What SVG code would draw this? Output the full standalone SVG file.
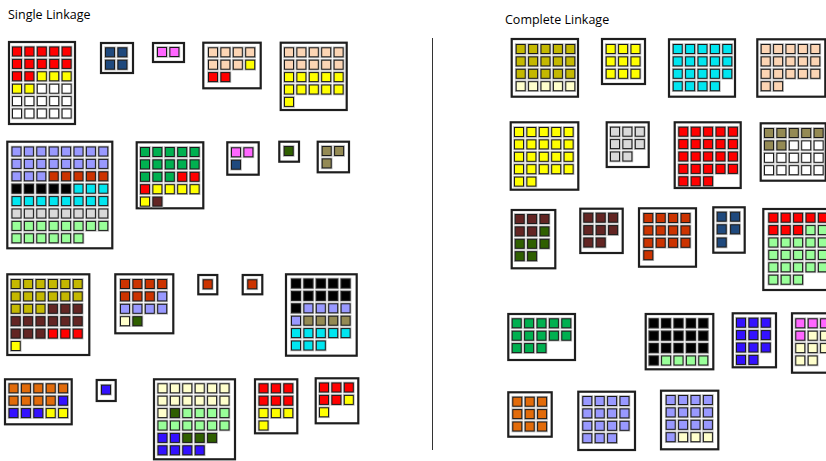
<svg xmlns="http://www.w3.org/2000/svg" xmlns:xlink="http://www.w3.org/1999/xlink" width="826" height="461" viewBox="0 0 826 461">
<style>
.bx{fill:#fff;stroke:#1e1e1e;stroke-width:2.2}
.ttl{font-family:"Open Sans","Liberation Sans",sans-serif;font-size:12.5px;fill:#000}
.r{color:#ff0000}.y{color:#ffff00}.w{color:#ffffff}.n{color:#1f497d}.p{color:#ff66ff}
.k{color:#fcd5b4}.l{color:#9999ff}.t{color:#cc3300}.b{color:#000000}.c{color:#00e6f0}
.g{color:#d9d9d9}.e{color:#99ff99}.gr{color:#00b050}.m{color:#632523}.d{color:#2f5f00}
.o{color:#948a54}.v{color:#c4b800}.q{color:#ffffcc}.u{color:#e26b0a}.z{color:#3311ff}
</style>
<defs>
<g id="s"><rect x="-0.8" y="-0.8" width="11.6" height="11.6" fill="#b5b5b5"/><rect x="0.5" y="0.5" width="9" height="9" fill="currentColor" stroke="#1a1a1a" stroke-width="1"/></g>
</defs>
<rect width="826" height="461" fill="#fff"/>
<text class="ttl" x="8" y="19">Single Linkage</text>
<text class="ttl" x="505" y="24">Complete Linkage</text>
<g id="connectors"><line x1="432.5" y1="38" x2="432.5" y2="450" stroke="#333" stroke-width="1"/></g>

<g id="sA"><rect class="bx" x="9" y="42" width="66" height="82"/><g transform="translate(12,46.5)">
<use href="#s" x="0" y="0" class="r"/><use href="#s" x="12.4" y="0" class="r"/><use href="#s" x="24.8" y="0" class="r"/><use href="#s" x="37.2" y="0" class="r"/><use href="#s" x="49.6" y="0" class="r"/>
<use href="#s" x="0" y="12.4" class="r"/><use href="#s" x="12.4" y="12.4" class="r"/><use href="#s" x="24.8" y="12.4" class="r"/><use href="#s" x="37.2" y="12.4" class="r"/><use href="#s" x="49.6" y="12.4" class="r"/>
<use href="#s" x="0" y="24.8" class="r"/><use href="#s" x="12.4" y="24.8" class="r"/><use href="#s" x="24.8" y="24.8" class="y"/><use href="#s" x="37.2" y="24.8" class="y"/><use href="#s" x="49.6" y="24.8" class="y"/>
<use href="#s" x="0" y="37.2" class="y"/><use href="#s" x="12.4" y="37.2" class="y"/><use href="#s" x="24.8" y="37.2" class="w"/><use href="#s" x="37.2" y="37.2" class="w"/><use href="#s" x="49.6" y="37.2" class="w"/>
<use href="#s" x="0" y="49.6" class="w"/><use href="#s" x="12.4" y="49.6" class="w"/><use href="#s" x="24.8" y="49.6" class="w"/><use href="#s" x="37.2" y="49.6" class="w"/><use href="#s" x="49.6" y="49.6" class="w"/>
<use href="#s" x="0" y="62" class="w"/><use href="#s" x="12.4" y="62" class="w"/><use href="#s" x="24.8" y="62" class="w"/><use href="#s" x="37.2" y="62" class="w"/><use href="#s" x="49.6" y="62" class="w"/>
</g></g>

<g id="sB"><rect class="bx" x="101" y="43" width="32" height="30"/><g transform="translate(105,47.3)">
<use href="#s" x="0" y="0" class="n"/><use href="#s" x="12.4" y="0" class="n"/><use href="#s" x="0" y="12.4" class="n"/><use href="#s" x="12.4" y="12.4" class="n"/>
</g></g>

<g id="sC"><rect class="bx" x="153" y="43" width="31" height="19"/><g transform="translate(157,47)">
<use href="#s" x="0" y="0" class="p"/><use href="#s" x="12.4" y="0" class="p"/>
</g></g>

<g id="sD"><rect class="bx" x="203.3" y="42.7" width="57.4" height="45.6"/><g transform="translate(208,47.3)">
<use href="#s" x="0" y="0" class="k"/><use href="#s" x="12.4" y="0" class="k"/><use href="#s" x="24.8" y="0" class="k"/><use href="#s" x="37.2" y="0" class="k"/>
<use href="#s" x="0" y="12.4" class="k"/><use href="#s" x="12.4" y="12.4" class="k"/><use href="#s" x="24.8" y="12.4" class="k"/><use href="#s" x="37.2" y="12.4" class="y"/>
<use href="#s" x="0" y="24.8" class="r"/><use href="#s" x="12.4" y="24.8" class="r"/>
</g></g>

<g id="sE"><rect class="bx" x="280.7" y="42.7" width="66" height="67.3"/><g transform="translate(284,47.3)">
<use href="#s" x="0" y="0" class="k"/><use href="#s" x="12.4" y="0" class="k"/><use href="#s" x="24.8" y="0" class="k"/><use href="#s" x="37.2" y="0" class="k"/><use href="#s" x="49.6" y="0" class="k"/>
<use href="#s" x="0" y="12.4" class="k"/><use href="#s" x="12.4" y="12.4" class="k"/><use href="#s" x="24.8" y="12.4" class="k"/><use href="#s" x="37.2" y="12.4" class="k"/><use href="#s" x="49.6" y="12.4" class="k"/>
<use href="#s" x="0" y="24.8" class="y"/><use href="#s" x="12.4" y="24.8" class="y"/><use href="#s" x="24.8" y="24.8" class="y"/><use href="#s" x="37.2" y="24.8" class="y"/><use href="#s" x="49.6" y="24.8" class="y"/>
<use href="#s" x="0" y="37.2" class="y"/><use href="#s" x="12.4" y="37.2" class="y"/><use href="#s" x="24.8" y="37.2" class="y"/><use href="#s" x="37.2" y="37.2" class="y"/><use href="#s" x="49.6" y="37.2" class="y"/>
<use href="#s" x="0" y="49.6" class="y"/>
</g></g>

<g id="sF"><rect class="bx" x="7.3" y="141.7" width="105" height="106.6"/><g transform="translate(11.5,146.5)">
<use href="#s" x="0" y="0" class="l"/><use href="#s" x="12.4" y="0" class="l"/><use href="#s" x="24.8" y="0" class="l"/><use href="#s" x="37.2" y="0" class="l"/><use href="#s" x="49.6" y="0" class="l"/><use href="#s" x="62" y="0" class="l"/><use href="#s" x="74.4" y="0" class="l"/><use href="#s" x="86.8" y="0" class="l"/>
<use href="#s" x="0" y="12.4" class="l"/><use href="#s" x="12.4" y="12.4" class="l"/><use href="#s" x="24.8" y="12.4" class="l"/><use href="#s" x="37.2" y="12.4" class="l"/><use href="#s" x="49.6" y="12.4" class="l"/><use href="#s" x="62" y="12.4" class="l"/><use href="#s" x="74.4" y="12.4" class="l"/><use href="#s" x="86.8" y="12.4" class="l"/>
<use href="#s" x="0" y="24.8" class="l"/><use href="#s" x="12.4" y="24.8" class="l"/><use href="#s" x="24.8" y="24.8" class="l"/><use href="#s" x="37.2" y="24.8" class="t"/><use href="#s" x="49.6" y="24.8" class="t"/><use href="#s" x="62" y="24.8" class="t"/><use href="#s" x="74.4" y="24.8" class="t"/><use href="#s" x="86.8" y="24.8" class="t"/>
<use href="#s" x="0" y="37.2" class="b"/><use href="#s" x="12.4" y="37.2" class="b"/><use href="#s" x="24.8" y="37.2" class="b"/><use href="#s" x="37.2" y="37.2" class="b"/><use href="#s" x="49.6" y="37.2" class="b"/><use href="#s" x="62" y="37.2" class="c"/><use href="#s" x="74.4" y="37.2" class="c"/><use href="#s" x="86.8" y="37.2" class="c"/>
<use href="#s" x="0" y="49.6" class="c"/><use href="#s" x="12.4" y="49.6" class="c"/><use href="#s" x="24.8" y="49.6" class="c"/><use href="#s" x="37.2" y="49.6" class="c"/><use href="#s" x="49.6" y="49.6" class="c"/><use href="#s" x="62" y="49.6" class="c"/><use href="#s" x="74.4" y="49.6" class="c"/><use href="#s" x="86.8" y="49.6" class="c"/>
<use href="#s" x="0" y="62" class="g"/><use href="#s" x="12.4" y="62" class="g"/><use href="#s" x="24.8" y="62" class="g"/><use href="#s" x="37.2" y="62" class="g"/><use href="#s" x="49.6" y="62" class="g"/><use href="#s" x="62" y="62" class="g"/><use href="#s" x="74.4" y="62" class="g"/><use href="#s" x="86.8" y="62" class="g"/>
<use href="#s" x="0" y="74.4" class="e"/><use href="#s" x="12.4" y="74.4" class="e"/><use href="#s" x="24.8" y="74.4" class="e"/><use href="#s" x="37.2" y="74.4" class="e"/><use href="#s" x="49.6" y="74.4" class="e"/><use href="#s" x="62" y="74.4" class="e"/><use href="#s" x="74.4" y="74.4" class="e"/><use href="#s" x="86.8" y="74.4" class="e"/>
<use href="#s" x="0" y="86.8" class="e"/><use href="#s" x="12.4" y="86.8" class="e"/><use href="#s" x="24.8" y="86.8" class="e"/><use href="#s" x="37.2" y="86.8" class="e"/><use href="#s" x="49.6" y="86.8" class="e"/><use href="#s" x="62" y="86.8" class="e"/>
</g></g>

<g id="sG"><rect class="bx" x="136.7" y="142.3" width="66.6" height="66"/><g transform="translate(140,147)">
<use href="#s" x="0" y="0" class="gr"/><use href="#s" x="12.4" y="0" class="gr"/><use href="#s" x="24.8" y="0" class="gr"/><use href="#s" x="37.2" y="0" class="gr"/><use href="#s" x="49.6" y="0" class="gr"/>
<use href="#s" x="0" y="12.4" class="gr"/><use href="#s" x="12.4" y="12.4" class="gr"/><use href="#s" x="24.8" y="12.4" class="gr"/><use href="#s" x="37.2" y="12.4" class="gr"/><use href="#s" x="49.6" y="12.4" class="gr"/>
<use href="#s" x="0" y="24.8" class="gr"/><use href="#s" x="12.4" y="24.8" class="gr"/><use href="#s" x="24.8" y="24.8" class="gr"/><use href="#s" x="37.2" y="24.8" class="r"/><use href="#s" x="49.6" y="24.8" class="r"/>
<use href="#s" x="0" y="37.2" class="r"/><use href="#s" x="12.4" y="37.2" class="y"/><use href="#s" x="24.8" y="37.2" class="y"/><use href="#s" x="37.2" y="37.2" class="y"/><use href="#s" x="49.6" y="37.2" class="y"/>
<use href="#s" x="0" y="49.6" class="y"/><use href="#s" x="12.4" y="49.6" class="m"/>
</g></g>

<g id="sH"><rect class="bx" x="227.3" y="142.3" width="31.4" height="32.4"/><g transform="translate(231,147.3)">
<use href="#s" x="0" y="0" class="p"/><use href="#s" x="12.4" y="0" class="p"/><use href="#s" x="0" y="12.4" class="n"/>
</g></g>

<g id="sI"><rect class="bx" x="279.3" y="141.7" width="19.7" height="20"/><g transform="translate(283.7,146)">
<use href="#s" x="0" y="0" class="d"/>
</g></g>

<g id="sJ"><rect class="bx" x="317.7" y="141.7" width="31.3" height="30.6"/><g transform="translate(321.7,146)">
<use href="#s" x="0" y="0" class="o"/><use href="#s" x="12.4" y="0" class="o"/><use href="#s" x="0" y="12.4" class="o"/>
</g></g>

<g id="sK"><rect class="bx" x="7.3" y="274.3" width="82" height="80.7"/><g transform="translate(10.7,279)">
<use href="#s" x="0" y="0" class="v"/><use href="#s" x="12.4" y="0" class="v"/><use href="#s" x="24.8" y="0" class="v"/><use href="#s" x="37.2" y="0" class="v"/><use href="#s" x="49.6" y="0" class="v"/><use href="#s" x="62" y="0" class="v"/>
<use href="#s" x="0" y="12.4" class="v"/><use href="#s" x="12.4" y="12.4" class="v"/><use href="#s" x="24.8" y="12.4" class="v"/><use href="#s" x="37.2" y="12.4" class="v"/><use href="#s" x="49.6" y="12.4" class="v"/><use href="#s" x="62" y="12.4" class="v"/>
<use href="#s" x="0" y="24.8" class="v"/><use href="#s" x="12.4" y="24.8" class="v"/><use href="#s" x="24.8" y="24.8" class="v"/><use href="#s" x="37.2" y="24.8" class="m"/><use href="#s" x="49.6" y="24.8" class="m"/><use href="#s" x="62" y="24.8" class="m"/>
<use href="#s" x="0" y="37.2" class="m"/><use href="#s" x="12.4" y="37.2" class="m"/><use href="#s" x="24.8" y="37.2" class="m"/><use href="#s" x="37.2" y="37.2" class="m"/><use href="#s" x="49.6" y="37.2" class="m"/><use href="#s" x="62" y="37.2" class="m"/>
<use href="#s" x="0" y="49.6" class="m"/><use href="#s" x="12.4" y="49.6" class="m"/><use href="#s" x="24.8" y="49.6" class="m"/><use href="#s" x="37.2" y="49.6" class="r"/><use href="#s" x="49.6" y="49.6" class="r"/><use href="#s" x="62" y="49.6" class="r"/>
<use href="#s" x="0" y="62" class="y"/>
</g></g>

<g id="sL"><rect class="bx" x="115.3" y="274.3" width="58" height="59"/><g transform="translate(120,279)">
<use href="#s" x="0" y="0" class="t"/><use href="#s" x="12.4" y="0" class="t"/><use href="#s" x="24.8" y="0" class="t"/><use href="#s" x="37.2" y="0" class="t"/>
<use href="#s" x="0" y="12.4" class="t"/><use href="#s" x="12.4" y="12.4" class="t"/><use href="#s" x="24.8" y="12.4" class="t"/><use href="#s" x="37.2" y="12.4" class="l"/>
<use href="#s" x="0" y="24.8" class="l"/><use href="#s" x="12.4" y="24.8" class="l"/><use href="#s" x="24.8" y="24.8" class="l"/><use href="#s" x="37.2" y="24.8" class="l"/>
<use href="#s" x="0" y="37.2" class="q"/><use href="#s" x="12.4" y="37.2" class="d"/>
</g></g>

<g id="sM"><rect class="bx" x="198.3" y="275" width="19" height="19.3"/><g transform="translate(202.7,279.3)"><use href="#s" x="0" y="0" class="t"/></g></g>

<g id="sN"><rect class="bx" x="242.7" y="275" width="19.6" height="19.3"/><g transform="translate(247.3,279.3)"><use href="#s" x="0" y="0" class="t"/></g></g>

<g id="sO"><rect class="bx" x="286" y="274.3" width="70.7" height="81.4"/><g transform="translate(291,278.5)">
<use href="#s" x="0" y="0" class="b"/><use href="#s" x="12.4" y="0" class="b"/><use href="#s" x="24.8" y="0" class="b"/><use href="#s" x="37.2" y="0" class="b"/><use href="#s" x="49.6" y="0" class="b"/>
<use href="#s" x="0" y="12.4" class="b"/><use href="#s" x="12.4" y="12.4" class="b"/><use href="#s" x="24.8" y="12.4" class="b"/><use href="#s" x="37.2" y="12.4" class="b"/><use href="#s" x="49.6" y="12.4" class="b"/>
<use href="#s" x="0" y="24.8" class="b"/><use href="#s" x="12.4" y="24.8" class="l"/><use href="#s" x="24.8" y="24.8" class="l"/><use href="#s" x="37.2" y="24.8" class="l"/><use href="#s" x="49.6" y="24.8" class="l"/>
<use href="#s" x="0" y="37.2" class="l"/><use href="#s" x="12.4" y="37.2" class="o"/><use href="#s" x="24.8" y="37.2" class="o"/><use href="#s" x="37.2" y="37.2" class="o"/><use href="#s" x="49.6" y="37.2" class="o"/>
<use href="#s" x="0" y="49.6" class="c"/><use href="#s" x="12.4" y="49.6" class="c"/><use href="#s" x="24.8" y="49.6" class="c"/><use href="#s" x="37.2" y="49.6" class="c"/><use href="#s" x="49.6" y="49.6" class="c"/>
<use href="#s" x="0" y="62" class="c"/><use href="#s" x="12.4" y="62" class="c"/><use href="#s" x="24.8" y="62" class="c"/>
</g></g>

<g id="sP"><rect class="bx" x="5" y="379.3" width="66.7" height="45"/><g transform="translate(8.5,383.3)">
<use href="#s" x="0" y="0" class="u"/><use href="#s" x="12.4" y="0" class="u"/><use href="#s" x="24.8" y="0" class="u"/><use href="#s" x="37.2" y="0" class="u"/><use href="#s" x="49.6" y="0" class="u"/>
<use href="#s" x="0" y="12.4" class="u"/><use href="#s" x="12.4" y="12.4" class="u"/><use href="#s" x="24.8" y="12.4" class="u"/><use href="#s" x="37.2" y="12.4" class="u"/><use href="#s" x="49.6" y="12.4" class="z"/>
<use href="#s" x="0" y="24.8" class="z"/><use href="#s" x="12.4" y="24.8" class="z"/><use href="#s" x="24.8" y="24.8" class="z"/><use href="#s" x="37.2" y="24.8" class="y"/><use href="#s" x="49.6" y="24.8" class="y"/>
</g></g>

<g id="sQ"><rect class="bx" x="96.7" y="380" width="19" height="21"/><g transform="translate(101,384.7)"><use href="#s" x="0" y="0" class="z"/></g></g>

<g id="sR"><rect class="bx" x="154" y="379.3" width="81" height="80"/><g transform="translate(157.5,383.3)">
<use href="#s" x="0" y="0" class="q"/><use href="#s" x="12.4" y="0" class="q"/><use href="#s" x="24.8" y="0" class="q"/><use href="#s" x="37.2" y="0" class="q"/><use href="#s" x="49.6" y="0" class="q"/><use href="#s" x="62" y="0" class="q"/>
<use href="#s" x="0" y="12.4" class="q"/><use href="#s" x="12.4" y="12.4" class="q"/><use href="#s" x="24.8" y="12.4" class="q"/><use href="#s" x="37.2" y="12.4" class="q"/><use href="#s" x="49.6" y="12.4" class="q"/><use href="#s" x="62" y="12.4" class="q"/>
<use href="#s" x="0" y="24.8" class="q"/><use href="#s" x="12.4" y="24.8" class="d"/><use href="#s" x="24.8" y="24.8" class="e"/><use href="#s" x="37.2" y="24.8" class="e"/><use href="#s" x="49.6" y="24.8" class="e"/><use href="#s" x="62" y="24.8" class="e"/>
<use href="#s" x="0" y="37.2" class="e"/><use href="#s" x="12.4" y="37.2" class="e"/><use href="#s" x="24.8" y="37.2" class="e"/><use href="#s" x="37.2" y="37.2" class="e"/><use href="#s" x="49.6" y="37.2" class="e"/><use href="#s" x="62" y="37.2" class="e"/>
<use href="#s" x="0" y="49.6" class="z"/><use href="#s" x="12.4" y="49.6" class="z"/><use href="#s" x="24.8" y="49.6" class="d"/><use href="#s" x="37.2" y="49.6" class="d"/><use href="#s" x="49.6" y="49.6" class="d"/>
<use href="#s" x="0" y="62" class="z"/><use href="#s" x="12.4" y="62" class="z"/><use href="#s" x="24.8" y="62" class="z"/><use href="#s" x="37.2" y="62" class="z"/>
</g></g>

<g id="sS"><rect class="bx" x="255" y="379.3" width="42.3" height="54"/><g transform="translate(258.5,383.3)">
<use href="#s" x="0" y="0" class="r"/><use href="#s" x="12.4" y="0" class="r"/><use href="#s" x="24.8" y="0" class="r"/>
<use href="#s" x="0" y="12.4" class="r"/><use href="#s" x="12.4" y="12.4" class="r"/><use href="#s" x="24.8" y="12.4" class="r"/>
<use href="#s" x="0" y="24.8" class="y"/><use href="#s" x="12.4" y="24.8" class="y"/><use href="#s" x="24.8" y="24.8" class="y"/>
<use href="#s" x="0" y="37.2" class="y"/>
</g></g>

<g id="sT"><rect class="bx" x="315.7" y="378.3" width="42.6" height="45"/><g transform="translate(319,382.5)">
<use href="#s" x="0" y="0" class="r"/><use href="#s" x="12.4" y="0" class="r"/><use href="#s" x="24.8" y="0" class="r"/>
<use href="#s" x="0" y="12.4" class="r"/><use href="#s" x="12.4" y="12.4" class="r"/><use href="#s" x="24.8" y="12.4" class="y"/>
<use href="#s" x="0" y="24.8" class="y"/>
</g></g>

<g id="ca"><rect class="bx" x="511.7" y="39" width="66.3" height="57.7"/><g transform="translate(515.7,44)">
<use href="#s" x="0" y="0" class="v"/><use href="#s" x="12.4" y="0" class="v"/><use href="#s" x="24.8" y="0" class="v"/><use href="#s" x="37.2" y="0" class="v"/><use href="#s" x="49.6" y="0" class="v"/>
<use href="#s" x="0" y="12.4" class="v"/><use href="#s" x="12.4" y="12.4" class="v"/><use href="#s" x="24.8" y="12.4" class="v"/><use href="#s" x="37.2" y="12.4" class="v"/><use href="#s" x="49.6" y="12.4" class="v"/>
<use href="#s" x="0" y="24.8" class="v"/><use href="#s" x="12.4" y="24.8" class="v"/><use href="#s" x="24.8" y="24.8" class="v"/><use href="#s" x="37.2" y="24.8" class="v"/><use href="#s" x="49.6" y="24.8" class="v"/>
<use href="#s" x="0" y="37.2" class="q"/><use href="#s" x="12.4" y="37.2" class="q"/><use href="#s" x="24.8" y="37.2" class="q"/><use href="#s" x="37.2" y="37.2" class="q"/><use href="#s" x="49.6" y="37.2" class="q"/>
</g></g>

<g id="cb"><rect class="bx" x="602" y="39" width="43" height="45"/><g transform="translate(605.7,44)">
<use href="#s" x="0" y="0" class="y"/><use href="#s" x="12.4" y="0" class="y"/><use href="#s" x="24.8" y="0" class="y"/>
<use href="#s" x="0" y="12.4" class="y"/><use href="#s" x="12.4" y="12.4" class="y"/><use href="#s" x="24.8" y="12.4" class="y"/>
<use href="#s" x="0" y="24.8" class="y"/><use href="#s" x="12.4" y="24.8" class="y"/><use href="#s" x="24.8" y="24.8" class="y"/>
</g></g>

<g id="cc"><rect class="bx" x="669" y="39.3" width="66" height="57.4"/><g transform="translate(672.7,44)">
<use href="#s" x="0" y="0" class="c"/><use href="#s" x="12.4" y="0" class="c"/><use href="#s" x="24.8" y="0" class="c"/><use href="#s" x="37.2" y="0" class="c"/><use href="#s" x="49.6" y="0" class="c"/>
<use href="#s" x="0" y="12.4" class="c"/><use href="#s" x="12.4" y="12.4" class="c"/><use href="#s" x="24.8" y="12.4" class="c"/><use href="#s" x="37.2" y="12.4" class="c"/><use href="#s" x="49.6" y="12.4" class="c"/>
<use href="#s" x="0" y="24.8" class="c"/><use href="#s" x="12.4" y="24.8" class="c"/><use href="#s" x="24.8" y="24.8" class="c"/><use href="#s" x="37.2" y="24.8" class="c"/><use href="#s" x="49.6" y="24.8" class="c"/>
<use href="#s" x="0" y="37.2" class="c"/><use href="#s" x="12.4" y="37.2" class="c"/><use href="#s" x="24.8" y="37.2" class="c"/><use href="#s" x="37.2" y="37.2" class="c"/>
</g></g>

<g id="cd"><rect class="bx" x="757.3" y="39.3" width="68" height="57.4"/><g transform="translate(760.7,44)">
<use href="#s" x="0" y="0" class="k"/><use href="#s" x="12.4" y="0" class="k"/><use href="#s" x="24.8" y="0" class="k"/><use href="#s" x="37.2" y="0" class="k"/><use href="#s" x="49.6" y="0" class="k"/>
<use href="#s" x="0" y="12.4" class="k"/><use href="#s" x="12.4" y="12.4" class="k"/><use href="#s" x="24.8" y="12.4" class="k"/><use href="#s" x="37.2" y="12.4" class="k"/><use href="#s" x="49.6" y="12.4" class="k"/>
<use href="#s" x="0" y="24.8" class="k"/><use href="#s" x="12.4" y="24.8" class="k"/><use href="#s" x="24.8" y="24.8" class="k"/><use href="#s" x="37.2" y="24.8" class="k"/><use href="#s" x="49.6" y="24.8" class="k"/>
<use href="#s" x="0" y="37.2" class="k"/><use href="#s" x="12.4" y="37.2" class="k"/>
</g></g>

<g id="cg"><rect class="bx" x="510.7" y="122.3" width="67.6" height="67.4"/><g transform="translate(514,127)">
<use href="#s" x="0" y="0" class="y"/><use href="#s" x="12.4" y="0" class="y"/><use href="#s" x="24.8" y="0" class="y"/><use href="#s" x="37.2" y="0" class="y"/><use href="#s" x="49.6" y="0" class="y"/>
<use href="#s" x="0" y="12.4" class="y"/><use href="#s" x="12.4" y="12.4" class="y"/><use href="#s" x="24.8" y="12.4" class="y"/><use href="#s" x="37.2" y="12.4" class="y"/><use href="#s" x="49.6" y="12.4" class="y"/>
<use href="#s" x="0" y="24.8" class="y"/><use href="#s" x="12.4" y="24.8" class="y"/><use href="#s" x="24.8" y="24.8" class="y"/><use href="#s" x="37.2" y="24.8" class="y"/><use href="#s" x="49.6" y="24.8" class="y"/>
<use href="#s" x="0" y="37.2" class="y"/><use href="#s" x="12.4" y="37.2" class="y"/><use href="#s" x="24.8" y="37.2" class="y"/><use href="#s" x="37.2" y="37.2" class="y"/><use href="#s" x="49.6" y="37.2" class="y"/>
<use href="#s" x="0" y="49.6" class="y"/><use href="#s" x="12.4" y="49.6" class="y"/>
</g></g>

<g id="ch"><rect class="bx" x="606.7" y="122.3" width="42" height="44.7"/><g transform="translate(610,126.7)">
<use href="#s" x="0" y="0" class="g"/><use href="#s" x="12.4" y="0" class="g"/><use href="#s" x="24.8" y="0" class="g"/>
<use href="#s" x="0" y="12.4" class="g"/><use href="#s" x="12.4" y="12.4" class="g"/><use href="#s" x="24.8" y="12.4" class="g"/>
<use href="#s" x="0" y="24.8" class="g"/><use href="#s" x="12.4" y="24.8" class="g"/>
</g></g>

<g id="ce"><rect class="bx" x="674.7" y="122.3" width="66" height="65.7"/><g transform="translate(678.3,126.7)">
<use href="#s" x="0" y="0" class="r"/><use href="#s" x="12.4" y="0" class="r"/><use href="#s" x="24.8" y="0" class="r"/><use href="#s" x="37.2" y="0" class="r"/><use href="#s" x="49.6" y="0" class="r"/>
<use href="#s" x="0" y="12.4" class="r"/><use href="#s" x="12.4" y="12.4" class="r"/><use href="#s" x="24.8" y="12.4" class="r"/><use href="#s" x="37.2" y="12.4" class="r"/><use href="#s" x="49.6" y="12.4" class="r"/>
<use href="#s" x="0" y="24.8" class="r"/><use href="#s" x="12.4" y="24.8" class="r"/><use href="#s" x="24.8" y="24.8" class="r"/><use href="#s" x="37.2" y="24.8" class="r"/><use href="#s" x="49.6" y="24.8" class="r"/>
<use href="#s" x="0" y="37.2" class="r"/><use href="#s" x="12.4" y="37.2" class="r"/><use href="#s" x="24.8" y="37.2" class="r"/><use href="#s" x="37.2" y="37.2" class="r"/><use href="#s" x="49.6" y="37.2" class="r"/>
<use href="#s" x="0" y="49.6" class="r"/><use href="#s" x="12.4" y="49.6" class="r"/><use href="#s" x="24.8" y="49.6" class="r"/>
</g></g>

<g id="cf"><rect class="bx" x="760.7" y="123.3" width="65" height="57.4"/><g transform="translate(764,128)">
<use href="#s" x="0" y="0" class="o"/><use href="#s" x="12.4" y="0" class="o"/><use href="#s" x="24.8" y="0" class="o"/><use href="#s" x="37.2" y="0" class="o"/><use href="#s" x="49.6" y="0" class="o"/>
<use href="#s" x="0" y="12.4" class="o"/><use href="#s" x="12.4" y="12.4" class="o"/><use href="#s" x="24.8" y="12.4" class="w"/><use href="#s" x="37.2" y="12.4" class="w"/><use href="#s" x="49.6" y="12.4" class="w"/>
<use href="#s" x="0" y="24.8" class="w"/><use href="#s" x="12.4" y="24.8" class="w"/><use href="#s" x="24.8" y="24.8" class="w"/><use href="#s" x="37.2" y="24.8" class="w"/><use href="#s" x="49.6" y="24.8" class="w"/>
<use href="#s" x="0" y="37.2" class="w"/><use href="#s" x="12.4" y="37.2" class="w"/><use href="#s" x="24.8" y="37.2" class="w"/><use href="#s" x="37.2" y="37.2" class="w"/><use href="#s" x="49.6" y="37.2" class="w"/>
</g></g>

<g id="ci"><rect class="bx" x="511.7" y="210" width="43.6" height="58.3"/><g transform="translate(514.7,214)">
<use href="#s" x="0" y="0" class="m"/><use href="#s" x="12.4" y="0" class="m"/><use href="#s" x="24.8" y="0" class="m"/>
<use href="#s" x="0" y="12.4" class="m"/><use href="#s" x="12.4" y="12.4" class="m"/><use href="#s" x="24.8" y="12.4" class="d"/>
<use href="#s" x="0" y="24.8" class="d"/><use href="#s" x="12.4" y="24.8" class="d"/><use href="#s" x="24.8" y="24.8" class="d"/>
<use href="#s" x="0" y="37.2" class="d"/><use href="#s" x="12.4" y="37.2" class="d"/>
</g></g>

<g id="cj"><rect class="bx" x="580.3" y="208.7" width="42.4" height="44.3"/><g transform="translate(583.3,212.7)">
<use href="#s" x="0" y="0" class="m"/><use href="#s" x="12.4" y="0" class="m"/><use href="#s" x="24.8" y="0" class="m"/>
<use href="#s" x="0" y="12.4" class="m"/><use href="#s" x="12.4" y="12.4" class="m"/><use href="#s" x="24.8" y="12.4" class="m"/>
<use href="#s" x="0" y="24.8" class="m"/><use href="#s" x="12.4" y="24.8" class="m"/>
</g></g>

<g id="ck"><rect class="bx" x="639" y="208.3" width="57" height="58.4"/><g transform="translate(643.3,213)">
<use href="#s" x="0" y="0" class="t"/><use href="#s" x="12.4" y="0" class="t"/><use href="#s" x="24.8" y="0" class="t"/><use href="#s" x="37.2" y="0" class="t"/>
<use href="#s" x="0" y="12.4" class="t"/><use href="#s" x="12.4" y="12.4" class="t"/><use href="#s" x="24.8" y="12.4" class="t"/><use href="#s" x="37.2" y="12.4" class="t"/>
<use href="#s" x="0" y="24.8" class="t"/><use href="#s" x="12.4" y="24.8" class="t"/><use href="#s" x="24.8" y="24.8" class="t"/><use href="#s" x="37.2" y="24.8" class="t"/>
<use href="#s" x="0" y="37.2" class="t"/>
</g></g>

<g id="cl"><rect class="bx" x="713.3" y="207.3" width="31.4" height="45.4"/><g transform="translate(716.7,211.7)">
<use href="#s" x="0" y="0" class="n"/><use href="#s" x="13.4" y="0" class="n"/>
<use href="#s" x="0" y="12.6" class="n"/><use href="#s" x="13.4" y="12.6" class="n"/>
<use href="#s" x="0" y="25.8" class="n"/>
</g></g>

<g id="cm"><rect class="bx" x="763.3" y="209" width="76" height="81"/><g transform="translate(768.3,212.7)">
<use href="#s" x="0" y="0" class="r"/><use href="#s" x="12.4" y="0" class="r"/><use href="#s" x="24.8" y="0" class="r"/><use href="#s" x="37.2" y="0" class="r"/><use href="#s" x="49.6" y="0" class="r"/>
<use href="#s" x="0" y="12.4" class="r"/><use href="#s" x="12.4" y="12.4" class="r"/><use href="#s" x="24.8" y="12.4" class="r"/><use href="#s" x="37.2" y="12.4" class="e"/><use href="#s" x="49.6" y="12.4" class="e"/>
<use href="#s" x="0" y="24.8" class="e"/><use href="#s" x="12.4" y="24.8" class="e"/><use href="#s" x="24.8" y="24.8" class="e"/><use href="#s" x="37.2" y="24.8" class="e"/><use href="#s" x="49.6" y="24.8" class="e"/>
<use href="#s" x="0" y="37.2" class="e"/><use href="#s" x="12.4" y="37.2" class="e"/><use href="#s" x="24.8" y="37.2" class="e"/><use href="#s" x="37.2" y="37.2" class="e"/><use href="#s" x="49.6" y="37.2" class="e"/>
<use href="#s" x="0" y="49.6" class="e"/><use href="#s" x="12.4" y="49.6" class="e"/><use href="#s" x="24.8" y="49.6" class="e"/><use href="#s" x="37.2" y="49.6" class="e"/><use href="#s" x="49.6" y="49.6" class="e"/>
<use href="#s" x="0" y="62" class="e"/><use href="#s" x="12.4" y="62" class="e"/><use href="#s" x="24.8" y="62" class="e"/>
</g></g>

<g id="cn"><rect class="bx" x="508.3" y="314" width="66.7" height="46"/><g transform="translate(511.7,318.3)">
<use href="#s" x="0" y="0" class="gr"/><use href="#s" x="12.4" y="0" class="gr"/><use href="#s" x="24.8" y="0" class="gr"/><use href="#s" x="37.2" y="0" class="gr"/><use href="#s" x="49.6" y="0" class="gr"/>
<use href="#s" x="0" y="12.4" class="gr"/><use href="#s" x="12.4" y="12.4" class="gr"/><use href="#s" x="24.8" y="12.4" class="gr"/><use href="#s" x="37.2" y="12.4" class="gr"/><use href="#s" x="49.6" y="12.4" class="gr"/>
<use href="#s" x="0" y="24.8" class="gr"/><use href="#s" x="12.4" y="24.8" class="gr"/><use href="#s" x="24.8" y="24.8" class="gr"/>
</g></g>

<g id="co"><rect class="bx" x="645.7" y="314" width="67.6" height="55.3"/><g transform="translate(648.7,318.3)">
<use href="#s" x="0" y="0" class="b"/><use href="#s" x="12.4" y="0" class="b"/><use href="#s" x="24.8" y="0" class="b"/><use href="#s" x="37.2" y="0" class="b"/><use href="#s" x="49.6" y="0" class="b"/>
<use href="#s" x="0" y="12.4" class="b"/><use href="#s" x="12.4" y="12.4" class="b"/><use href="#s" x="24.8" y="12.4" class="b"/><use href="#s" x="37.2" y="12.4" class="b"/><use href="#s" x="49.6" y="12.4" class="b"/>
<use href="#s" x="0" y="24.8" class="b"/><use href="#s" x="12.4" y="24.8" class="b"/><use href="#s" x="24.8" y="24.8" class="b"/><use href="#s" x="37.2" y="24.8" class="b"/><use href="#s" x="49.6" y="24.8" class="b"/>
<use href="#s" x="0" y="37.2" class="b"/><use href="#s" x="12.4" y="37.2" class="e"/><use href="#s" x="24.8" y="37.2" class="e"/><use href="#s" x="37.2" y="37.2" class="e"/><use href="#s" x="49.6" y="37.2" class="e"/>
</g></g>

<g id="cp"><rect class="bx" x="732.7" y="313.3" width="43.3" height="54"/><g transform="translate(736,317.7)">
<use href="#s" x="0" y="0" class="z"/><use href="#s" x="12.4" y="0" class="z"/><use href="#s" x="24.8" y="0" class="z"/>
<use href="#s" x="0" y="12.4" class="z"/><use href="#s" x="12.4" y="12.4" class="z"/><use href="#s" x="24.8" y="12.4" class="z"/>
<use href="#s" x="0" y="24.8" class="z"/><use href="#s" x="12.4" y="24.8" class="z"/><use href="#s" x="24.8" y="24.8" class="z"/>
<use href="#s" x="0" y="37.2" class="z"/><use href="#s" x="12.4" y="37.2" class="z"/>
</g></g>

<g id="cq"><rect class="bx" x="792" y="313.3" width="46" height="59.4"/><g transform="translate(795.3,318.3)">
<use href="#s" x="0" y="0" class="p"/><use href="#s" x="12.4" y="0" class="p"/><use href="#s" x="24.8" y="0" class="p"/>
<use href="#s" x="0" y="12.4" class="p"/><use href="#s" x="12.4" y="12.4" class="q"/><use href="#s" x="24.8" y="12.4" class="q"/>
<use href="#s" x="0" y="24.8" class="q"/><use href="#s" x="12.4" y="24.8" class="q"/><use href="#s" x="24.8" y="24.8" class="q"/>
<use href="#s" x="0" y="37.2" class="q"/><use href="#s" x="12.4" y="37.2" class="q"/>
</g></g>

<g id="cr"><rect class="bx" x="508.3" y="392.3" width="43.4" height="44.4"/><g transform="translate(512.3,396.7)">
<use href="#s" x="0" y="0" class="u"/><use href="#s" x="12.4" y="0" class="u"/><use href="#s" x="24.8" y="0" class="u"/>
<use href="#s" x="0" y="12.4" class="u"/><use href="#s" x="12.4" y="12.4" class="u"/><use href="#s" x="24.8" y="12.4" class="u"/>
<use href="#s" x="0" y="24.8" class="u"/><use href="#s" x="12.4" y="24.8" class="u"/><use href="#s" x="24.8" y="24.8" class="u"/>
</g></g>

<g id="cs"><rect class="bx" x="578.3" y="391.7" width="56.7" height="58.3"/><g transform="translate(582.3,396)">
<use href="#s" x="0" y="0" class="l"/><use href="#s" x="12.4" y="0" class="l"/><use href="#s" x="24.8" y="0" class="l"/><use href="#s" x="37.2" y="0" class="l"/>
<use href="#s" x="0" y="12.4" class="l"/><use href="#s" x="12.4" y="12.4" class="l"/><use href="#s" x="24.8" y="12.4" class="l"/><use href="#s" x="37.2" y="12.4" class="l"/>
<use href="#s" x="0" y="24.8" class="l"/><use href="#s" x="12.4" y="24.8" class="l"/><use href="#s" x="24.8" y="24.8" class="l"/><use href="#s" x="37.2" y="24.8" class="l"/>
<use href="#s" x="0" y="37.2" class="l"/><use href="#s" x="12.4" y="37.2" class="l"/><use href="#s" x="24.8" y="37.2" class="l"/>
</g></g>

<g id="ct"><rect class="bx" x="661" y="390.7" width="57.3" height="58.6"/><g transform="translate(665.7,395)">
<use href="#s" x="0" y="0" class="l"/><use href="#s" x="12.4" y="0" class="l"/><use href="#s" x="24.8" y="0" class="l"/><use href="#s" x="37.2" y="0" class="l"/>
<use href="#s" x="0" y="12.4" class="l"/><use href="#s" x="12.4" y="12.4" class="l"/><use href="#s" x="24.8" y="12.4" class="l"/><use href="#s" x="37.2" y="12.4" class="l"/>
<use href="#s" x="0" y="24.8" class="l"/><use href="#s" x="12.4" y="24.8" class="l"/><use href="#s" x="24.8" y="24.8" class="l"/><use href="#s" x="37.2" y="24.8" class="l"/>
<use href="#s" x="0" y="37.2" class="l"/><use href="#s" x="12.4" y="37.2" class="q"/><use href="#s" x="24.8" y="37.2" class="q"/><use href="#s" x="37.2" y="37.2" class="q"/>
</g></g>
</svg>
